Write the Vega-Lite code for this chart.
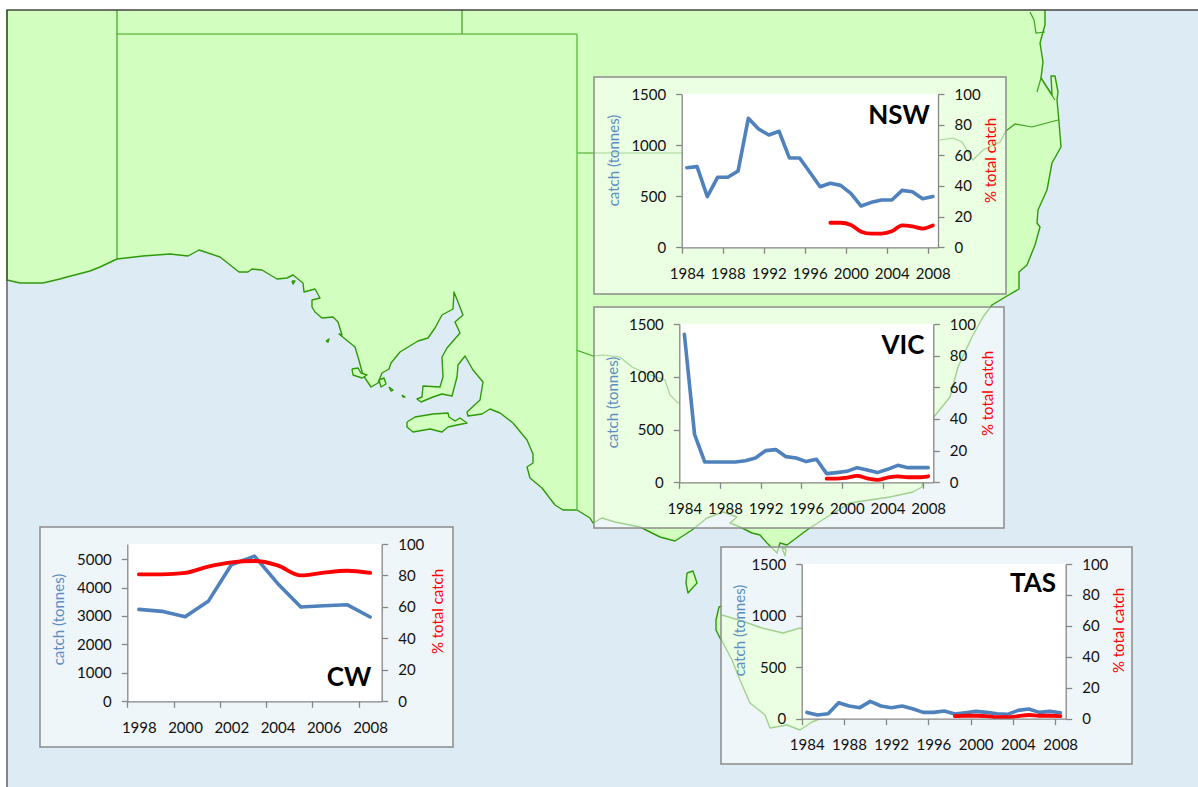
{
"$schema":"https://vega.github.io/schema/vega-lite/v6.json",
"width":1198,"height":787,"autosize":"none","padding":0,"background":"white",
"config":{"view":{"stroke":null},"axis":{"grid":false,"domainColor":"#868686","tickColor":"#868686","domainWidth":1.3,"tickWidth":1.3,"tickSize":6,"labelFont":"Lato","labelFontSize":15,"labelColor":"#111111","labelPadding":10,"labelOverlap":false,"labelFlush":false,"labelBound":false,"titleFont":"Lato","titleFontSize":15,"titleFontWeight":"normal","titleAlign":"center","titleBaseline":"middle"}},
"datasets":{
"catch":[
{"region":"NSW","year":1984,"catch":779},{"region":"NSW","year":1985,"catch":789},{"region":"NSW","year":1986,"catch":496},{"region":"NSW","year":1987,"catch":685},{"region":"NSW","year":1988,"catch":685},{"region":"NSW","year":1989,"catch":747},{"region":"NSW","year":1990,"catch":1262},{"region":"NSW","year":1991,"catch":1157},{"region":"NSW","year":1992,"catch":1099},{"region":"NSW","year":1993,"catch":1135},{"region":"NSW","year":1994,"catch":874},{"region":"NSW","year":1995,"catch":874},{"region":"NSW","year":1996,"catch":734},{"region":"NSW","year":1997,"catch":593},
{"region":"NSW","year":1998,"catch":626,"share":16},{"region":"NSW","year":1999,"catch":606,"share":16},{"region":"NSW","year":2000,"catch":528,"share":14.6},{"region":"NSW","year":2001,"catch":404,"share":10.2},{"region":"NSW","year":2002,"catch":440,"share":8.9},{"region":"NSW","year":2003,"catch":463,"share":8.9},{"region":"NSW","year":2004,"catch":463,"share":10.4},{"region":"NSW","year":2005,"catch":557,"share":14.3},{"region":"NSW","year":2006,"catch":544,"share":13.7},{"region":"NSW","year":2007,"catch":476,"share":12.2},{"region":"NSW","year":2008,"catch":496,"share":14.3},
{"region":"VIC","year":1984,"catch":1402},{"region":"VIC","year":1985,"catch":455},{"region":"VIC","year":1986,"catch":193},{"region":"VIC","year":1987,"catch":193},{"region":"VIC","year":1988,"catch":193},{"region":"VIC","year":1989,"catch":193},{"region":"VIC","year":1990,"catch":205},{"region":"VIC","year":1991,"catch":230},{"region":"VIC","year":1992,"catch":300},{"region":"VIC","year":1993,"catch":310},{"region":"VIC","year":1994,"catch":243},{"region":"VIC","year":1995,"catch":230},{"region":"VIC","year":1996,"catch":196},{"region":"VIC","year":1997,"catch":218},
{"region":"VIC","year":1998,"catch":82,"share":2.3},{"region":"VIC","year":1999,"catch":92,"share":2.3},{"region":"VIC","year":2000,"catch":104,"share":3},{"region":"VIC","year":2001,"catch":139,"share":4},{"region":"VIC","year":2002,"catch":117,"share":2.5},{"region":"VIC","year":2003,"catch":92,"share":1.5},{"region":"VIC","year":2004,"catch":123,"share":3},{"region":"VIC","year":2005,"catch":161,"share":3.8},{"region":"VIC","year":2006,"catch":139,"share":3.2},{"region":"VIC","year":2007,"catch":139,"share":3.2},{"region":"VIC","year":2008,"catch":139,"share":3.8},
{"region":"TAS","year":1984,"catch":61},{"region":"TAS","year":1985,"catch":36},{"region":"TAS","year":1986,"catch":48},{"region":"TAS","year":1987,"catch":155},{"region":"TAS","year":1988,"catch":123},{"region":"TAS","year":1989,"catch":107},{"region":"TAS","year":1990,"catch":168},{"region":"TAS","year":1991,"catch":123},{"region":"TAS","year":1992,"catch":107},{"region":"TAS","year":1993,"catch":123},{"region":"TAS","year":1994,"catch":97},{"region":"TAS","year":1995,"catch":61},{"region":"TAS","year":1996,"catch":61},{"region":"TAS","year":1997,"catch":74},
{"region":"TAS","year":1998,"catch":45,"share":1.7},{"region":"TAS","year":1999,"catch":58,"share":1.9},{"region":"TAS","year":2000,"catch":71,"share":1.9},{"region":"TAS","year":2001,"catch":61,"share":1.7},{"region":"TAS","year":2002,"catch":48,"share":1},{"region":"TAS","year":2003,"catch":42,"share":1},{"region":"TAS","year":2004,"catch":81,"share":1.7},{"region":"TAS","year":2005,"catch":94,"share":2.4},{"region":"TAS","year":2006,"catch":61,"share":1.9},{"region":"TAS","year":2007,"catch":71,"share":1.9},{"region":"TAS","year":2008,"catch":58,"share":1.7},
{"region":"CW","year":1998,"catch":3232,"share":80.7},{"region":"CW","year":1999,"catch":3162,"share":80.7},{"region":"CW","year":2000,"catch":2974,"share":81.6},{"region":"CW","year":2001,"catch":3513,"share":85.6},{"region":"CW","year":2002,"catch":4801,"share":88.3},{"region":"CW","year":2003,"catch":5105,"share":89.2},{"region":"CW","year":2004,"catch":4145,"share":86.4},{"region":"CW","year":2005,"catch":3314,"share":80},{"region":"CW","year":2006,"catch":3361,"share":81.8},{"region":"CW","year":2007,"catch":3396,"share":83},{"region":"CW","year":2008,"catch":2963,"share":81.6}
],
"land":[
{"p":"mainland","e":7,"s":10},{"p":"mainland","e":7,"s":280},{"p":"mainland","e":20,"s":283},{"p":"mainland","e":43,"s":283},{"p":"mainland","e":60,"s":279},{"p":"mainland","e":67,"s":277},{"p":"mainland","e":90,"s":271},{"p":"mainland","e":100,"s":267},{"p":"mainland","e":117,"s":259},{"p":"mainland","e":143,"s":256},{"p":"mainland","e":170,"s":254},{"p":"mainland","e":188,"s":256},{"p":"mainland","e":199,"s":250},{"p":"mainland","e":220,"s":257},{"p":"mainland","e":239,"s":272},{"p":"mainland","e":248,"s":272},{"p":"mainland","e":252,"s":269},{"p":"mainland","e":262,"s":270},{"p":"mainland","e":277,"s":279},{"p":"mainland","e":287,"s":278},{"p":"mainland","e":293,"s":275},{"p":"mainland","e":303,"s":283},{"p":"mainland","e":304,"s":292},{"p":"mainland","e":315,"s":289},{"p":"mainland","e":320,"s":298},{"p":"mainland","e":312,"s":300},{"p":"mainland","e":312,"s":307},{"p":"mainland","e":315,"s":312},{"p":"mainland","e":322,"s":318},{"p":"mainland","e":333,"s":317},{"p":"mainland","e":338,"s":322},{"p":"mainland","e":342,"s":335},{"p":"mainland","e":339,"s":334},{"p":"mainland","e":355,"s":347},{"p":"mainland","e":358,"s":357},{"p":"mainland","e":363,"s":375},{"p":"mainland","e":371,"s":387},{"p":"mainland","e":378,"s":383},{"p":"mainland","e":382,"s":373},{"p":"mainland","e":389,"s":369},{"p":"mainland","e":391,"s":363},{"p":"mainland","e":400,"s":352},{"p":"mainland","e":418,"s":341},{"p":"mainland","e":428,"s":338},{"p":"mainland","e":435,"s":328},{"p":"mainland","e":442,"s":315},{"p":"mainland","e":453,"s":309},{"p":"mainland","e":454,"s":292},{"p":"mainland","e":458,"s":302},{"p":"mainland","e":463,"s":315},{"p":"mainland","e":455,"s":322},{"p":"mainland","e":460,"s":333},{"p":"mainland","e":447,"s":348},{"p":"mainland","e":442,"s":357},{"p":"mainland","e":443,"s":377},{"p":"mainland","e":440,"s":387},{"p":"mainland","e":423,"s":386},{"p":"mainland","e":422,"s":397},{"p":"mainland","e":417,"s":399},{"p":"mainland","e":421,"s":402},{"p":"mainland","e":433,"s":397},{"p":"mainland","e":442,"s":394},{"p":"mainland","e":452,"s":396},{"p":"mainland","e":457,"s":377},{"p":"mainland","e":458,"s":365},{"p":"mainland","e":465,"s":356},{"p":"mainland","e":473,"s":370},{"p":"mainland","e":483,"s":382},{"p":"mainland","e":480,"s":400},{"p":"mainland","e":467,"s":412},{"p":"mainland","e":468,"s":416},{"p":"mainland","e":482,"s":414},{"p":"mainland","e":490,"s":409},{"p":"mainland","e":500,"s":413},{"p":"mainland","e":513,"s":423},{"p":"mainland","e":527,"s":440},{"p":"mainland","e":533,"s":454},{"p":"mainland","e":533,"s":463},{"p":"mainland","e":527,"s":467},{"p":"mainland","e":530,"s":478},{"p":"mainland","e":542,"s":488},{"p":"mainland","e":555,"s":505},{"p":"mainland","e":563,"s":510},{"p":"mainland","e":577,"s":510},{"p":"mainland","e":590,"s":518},{"p":"mainland","e":593,"s":523},{"p":"mainland","e":602,"s":518},{"p":"mainland","e":615,"s":522},{"p":"mainland","e":640,"s":527},{"p":"mainland","e":660,"s":537},{"p":"mainland","e":675,"s":541},{"p":"mainland","e":692,"s":530},{"p":"mainland","e":707,"s":518},{"p":"mainland","e":723,"s":512},{"p":"mainland","e":737,"s":517},{"p":"mainland","e":730,"s":523},{"p":"mainland","e":740,"s":527},{"p":"mainland","e":752,"s":533},{"p":"mainland","e":760,"s":535},{"p":"mainland","e":767,"s":543},{"p":"mainland","e":777,"s":553},{"p":"mainland","e":780,"s":543},{"p":"mainland","e":787,"s":545},{"p":"mainland","e":807,"s":530},{"p":"mainland","e":827,"s":517},{"p":"mainland","e":850,"s":503},{"p":"mainland","e":890,"s":497},{"p":"mainland","e":913,"s":492},{"p":"mainland","e":922,"s":487},{"p":"mainland","e":925,"s":470},{"p":"mainland","e":933,"s":418},{"p":"mainland","e":950,"s":397},{"p":"mainland","e":958,"s":367},{"p":"mainland","e":972,"s":337},{"p":"mainland","e":983,"s":317},{"p":"mainland","e":992,"s":305},{"p":"mainland","e":1007,"s":296},{"p":"mainland","e":1019,"s":289},{"p":"mainland","e":1019,"s":272},{"p":"mainland","e":1027,"s":265},{"p":"mainland","e":1035,"s":245},{"p":"mainland","e":1040,"s":227},{"p":"mainland","e":1037,"s":223},{"p":"mainland","e":1038,"s":210},{"p":"mainland","e":1047,"s":190},{"p":"mainland","e":1052,"s":163},{"p":"mainland","e":1061,"s":147},{"p":"mainland","e":1059,"s":122},{"p":"mainland","e":1057,"s":100},{"p":"mainland","e":1058,"s":92},{"p":"mainland","e":1055,"s":76},{"p":"mainland","e":1051,"s":76},{"p":"mainland","e":1052,"s":95},{"p":"mainland","e":1041,"s":78},{"p":"mainland","e":1043,"s":62},{"p":"mainland","e":1040,"s":43},{"p":"mainland","e":1045,"s":25},{"p":"mainland","e":1045,"s":10},
{"p":"kangaroo","e":407,"s":422},{"p":"kangaroo","e":415,"s":417},{"p":"kangaroo","e":433,"s":414},{"p":"kangaroo","e":448,"s":413},{"p":"kangaroo","e":449,"s":417},{"p":"kangaroo","e":455,"s":421},{"p":"kangaroo","e":460,"s":418},{"p":"kangaroo","e":467,"s":423},{"p":"kangaroo","e":457,"s":425},{"p":"kangaroo","e":448,"s":427},{"p":"kangaroo","e":442,"s":432},{"p":"kangaroo","e":430,"s":429},{"p":"kangaroo","e":413,"s":432},{"p":"kangaroo","e":407,"s":427},{"p":"kangaroo","e":407,"s":422},
{"p":"king","e":687,"s":573},{"p":"king","e":693,"s":571},{"p":"king","e":697,"s":583},{"p":"king","e":688,"s":593},{"p":"king","e":686,"s":583},{"p":"king","e":687,"s":573},
{"p":"tasmania","e":722,"s":606},{"p":"tasmania","e":719,"s":607},{"p":"tasmania","e":716,"s":620},{"p":"tasmania","e":716,"s":630},{"p":"tasmania","e":720,"s":638},{"p":"tasmania","e":722,"s":641},{"p":"tasmania","e":732,"s":660},{"p":"tasmania","e":740,"s":680},{"p":"tasmania","e":750,"s":703},{"p":"tasmania","e":765,"s":715},{"p":"tasmania","e":770,"s":728},{"p":"tasmania","e":787,"s":725},{"p":"tasmania","e":800,"s":730},{"p":"tasmania","e":812,"s":722},{"p":"tasmania","e":822,"s":718},{"p":"tasmania","e":830,"s":690},{"p":"tasmania","e":830,"s":640},{"p":"tasmania","e":800,"s":628},{"p":"tasmania","e":783,"s":633},{"p":"tasmania","e":762,"s":628},{"p":"tasmania","e":745,"s":622},{"p":"tasmania","e":722,"s":615},
{"p":"eyre","e":352,"s":369},{"p":"eyre","e":358,"s":368},{"p":"eyre","e":361,"s":373},{"p":"eyre","e":367,"s":375},{"p":"eyre","e":362,"s":378},{"p":"eyre","e":353,"s":375},{"p":"eyre","e":352,"s":369},
{"p":"yorke","e":379,"s":380},{"p":"yorke","e":384,"s":378},{"p":"yorke","e":386,"s":384},{"p":"yorke","e":381,"s":387},{"p":"yorke","e":379,"s":380},
{"p":"isle1","e":326,"s":341},{"p":"isle1","e":329,"s":339},{"p":"isle1","e":328,"s":342},{"p":"isle1","e":326,"s":341},
{"p":"isle2","e":389,"s":387},{"p":"isle2","e":393,"s":390},{"p":"isle2","e":391,"s":391},{"p":"isle2","e":389,"s":387},
{"p":"isle3","e":402,"s":395},{"p":"isle3","e":405,"s":397},{"p":"isle3","e":403,"s":397},{"p":"isle3","e":402,"s":395},
{"p":"isle4","e":292,"s":281},{"p":"isle4","e":295,"s":281},{"p":"isle4","e":293,"s":284},{"p":"isle4","e":292,"s":281},
{"p":"flinders","e":782,"s":548},{"p":"flinders","e":786,"s":549},{"p":"flinders","e":785,"s":556},{"p":"flinders","e":782,"s":548}
],
"borders":[
{"p":"b1","e":117,"s":10},{"p":"b1","e":117,"s":259},
{"p":"b2","e":117,"s":34},{"p":"b2","e":577,"s":34},
{"p":"b3","e":462,"s":10},{"p":"b3","e":462,"s":34},
{"p":"b4","e":577,"s":153},{"p":"b4","e":680,"s":153},{"p":"b4","e":940,"s":140},{"p":"b4","e":953,"s":138},{"p":"b4","e":962,"s":142},{"p":"b4","e":973,"s":160},{"p":"b4","e":983,"s":150},{"p":"b4","e":1000,"s":142},{"p":"b4","e":1006,"s":131},{"p":"b4","e":1015,"s":124},{"p":"b4","e":1032,"s":127},{"p":"b4","e":1043,"s":124},{"p":"b4","e":1058,"s":120},
{"p":"b5","e":576,"s":350},{"p":"b5","e":593,"s":356},{"p":"b5","e":603,"s":355},{"p":"b5","e":620,"s":357},{"p":"b5","e":632,"s":367},{"p":"b5","e":645,"s":373},{"p":"b5","e":665,"s":380},{"p":"b5","e":670,"s":395},{"p":"b5","e":678,"s":403},{"p":"b5","e":800,"s":440},
{"p":"b6","e":1030,"s":12},{"p":"b6","e":1034,"s":20},{"p":"b6","e":1036,"s":33},{"p":"b6","e":1045,"s":32},
{"p":"b7","e":1055,"s":100},{"p":"b7","e":1041,"s":78},{"p":"b7","e":1037,"s":92}
],
"stateline":[{"e":577,"s":34},{"e":577,"s":510}],
"frame":[{"e":7,"s":787},{"e":7,"s":10},{"e":1198,"s":10}],
"sea":[{"e":8,"e2":1198,"s":10,"s2":787}],
"panels":[{"region":"NSW","e":594,"e2":1006,"s":77,"s2":294},{"region":"VIC","e":594,"e2":1004,"s":307,"s2":528},{"region":"TAS","e":721,"e2":1132,"s":547,"s2":764},{"region":"CW","e":40,"e2":453,"s":527,"s2":747}],
"plots":[{"region":"NSW","e":682,"e2":938,"s":94,"s2":247},{"region":"VIC","e":679,"e2":933,"s":324,"s2":482},{"region":"TAS","e":802,"e2":1066,"s":564,"s2":719},{"region":"CW","e":127,"e2":382,"s":544,"s2":701}],
"labels":[{"label":"NSW","e":899,"s":116},{"label":"VIC","e":903,"s":346},{"label":"TAS","e":1033,"s":584},{"label":"CW","e":349,"s":678}]
},
"resolve":{"scale":{"x":"independent","y":"independent"},"axis":{"x":"independent","y":"independent"}},
"layer":[
{"encoding":{"x":{"field":"e","type":"quantitative","scale":{"domain":[0,1198],"range":[0,1198],"nice":false,"zero":false},"axis":null},"y":{"field":"s","type":"quantitative","scale":{"domain":[0,787],"range":[0,787],"nice":false,"zero":false},"axis":null}},
"layer":[
{"data":{"name":"sea"},"mark":{"type":"rect","fill":"#dcebf4"},"encoding":{"x2":{"field":"e2"},"y2":{"field":"s2"}}},
{"data":{"name":"land"},"mark":{"type":"line","fill":"#d2ffbf","stroke":"#2f9a08","strokeWidth":1.4,"strokeJoin":"round"},"encoding":{"detail":{"field":"p"},"order":{"value":null}}},
{"data":{"name":"borders"},"mark":{"type":"line","stroke":"#3f9f1f","strokeWidth":1.2},"encoding":{"detail":{"field":"p"},"order":{"value":null}}},
{"data":{"name":"stateline"},"mark":{"type":"line","stroke":"#6cc84f","strokeWidth":1.6},"encoding":{"order":{"value":null}}},
{"data":{"name":"frame"},"mark":{"type":"line","stroke":"#444444","strokeWidth":1.3},"encoding":{"order":{"value":null}}},
{"data":{"name":"panels"},"mark":{"type":"rect","fill":"white","fillOpacity":0.55,"stroke":"#8c8c8c","strokeWidth":1.5},"encoding":{"x2":{"field":"e2"},"y2":{"field":"s2"}}},
{"data":{"name":"plots"},"mark":{"type":"rect","fill":"white"},"encoding":{"x2":{"field":"e2"},"y2":{"field":"s2"}}},
{"data":{"name":"labels"},"mark":{"type":"text","font":"Lato","fontWeight":"bold","fontSize":26,"color":"#000000","align":"center","baseline":"middle"},"encoding":{"text":{"field":"label"}}}
]},
{"data":{"name":"catch"},"transform":[{"filter":"datum.region==='NSW'"}],"mark":{"type":"line","color":"#4f81bd","strokeWidth":3.6,"strokeCap":"round","strokeJoin":"round"},
"encoding":{"x":{"field":"year","type":"quantitative","scale":{"domain":[1983.5,2008.5],"range":[681.7,938],"nice":false,"zero":false},"axis":{"orient":"bottom","zindex":1,"offset":-539.7,"title":null,"values":[1983.5,1987.5,1991.5,1995.5,1999.5,2003.5,2007.5],"labelExpr":"format(datum.value+0.5,'d')","labelOffset":5,"labelPadding":13}},
"y":{"field":"catch","type":"quantitative","scale":{"domain":[0,1500],"range":[247.3,94],"nice":false,"zero":false},"axis":{"orient":"left","zindex":1,"offset":-681.7,"format":"d","values":[0,500,1000,1500],"title":"catch (tonnes)","titleColor":"#5b8dc4","titleX":-68,"titleY":160}}}},
{"data":{"name":"catch"},"transform":[{"filter":"datum.region==='NSW'"}],"mark":{"type":"line","color":"#ff0000","strokeWidth":3.8,"strokeCap":"round","interpolate":"monotone"},
"encoding":{"x":{"field":"year","type":"quantitative","scale":{"domain":[1983.5,2008.5],"range":[681.7,938],"nice":false,"zero":false},"axis":null},
"y":{"field":"share","type":"quantitative","scale":{"domain":[0,100],"range":[247.3,94],"nice":false,"zero":false},"axis":{"orient":"right","zindex":1,"offset":-260,"format":"d","values":[0,20,40,60,80,100],"title":"% total catch","titleColor":"#ff0000","titleAngle":270,"titleX":52,"titleY":160}}}},
{"data":{"name":"catch"},"transform":[{"filter":"datum.region==='VIC'"}],"mark":{"type":"line","color":"#4f81bd","strokeWidth":3.6,"strokeCap":"round","strokeJoin":"round"},
"encoding":{"x":{"field":"year","type":"quantitative","scale":{"domain":[1983.5,2008.5],"range":[679.3,933.3],"nice":false,"zero":false},"axis":{"orient":"bottom","zindex":1,"offset":-304.7,"title":null,"values":[1983.5,1987.5,1991.5,1995.5,1999.5,2003.5,2007.5],"labelExpr":"format(datum.value+0.5,'d')","labelOffset":5,"labelPadding":13}},
"y":{"field":"catch","type":"quantitative","scale":{"domain":[0,1500],"range":[482.3,324],"nice":false,"zero":false},"axis":{"orient":"left","zindex":1,"offset":-679.3,"format":"d","values":[0,500,1000,1500],"title":"catch (tonnes)","titleColor":"#5b8dc4","titleX":-67,"titleY":402}}}},
{"data":{"name":"catch"},"transform":[{"filter":"datum.region==='VIC'"}],"mark":{"type":"line","color":"#ff0000","strokeWidth":3.8,"strokeCap":"round","interpolate":"monotone"},
"encoding":{"x":{"field":"year","type":"quantitative","scale":{"domain":[1983.5,2008.5],"range":[679.3,933.3],"nice":false,"zero":false},"axis":null},
"y":{"field":"share","type":"quantitative","scale":{"domain":[0,100],"range":[482.3,324],"nice":false,"zero":false},"axis":{"orient":"right","zindex":1,"offset":-264.7,"format":"d","values":[0,20,40,60,80,100],"title":"% total catch","titleColor":"#ff0000","titleAngle":270,"titleX":54,"titleY":393}}}},
{"data":{"name":"catch"},"transform":[{"filter":"datum.region==='TAS'"}],"mark":{"type":"line","color":"#4f81bd","strokeWidth":3.6,"strokeCap":"round","strokeJoin":"round"},
"encoding":{"x":{"field":"year","type":"quantitative","scale":{"domain":[1983.5,2008.5],"range":[801.7,1065.7],"nice":false,"zero":false},"axis":{"orient":"bottom","zindex":1,"offset":-68.3,"title":null,"values":[1983.5,1987.5,1991.5,1995.5,1999.5,2003.5,2007.5],"labelExpr":"format(datum.value+0.5,'d')","labelOffset":5,"labelPadding":13}},
"y":{"field":"catch","type":"quantitative","scale":{"domain":[0,1500],"range":[718.7,564],"nice":false,"zero":false},"axis":{"orient":"left","zindex":1,"offset":-801.7,"format":"d","values":[0,500,1000,1500],"title":"catch (tonnes)","titleColor":"#5b8dc4","titleX":-62.4,"titleY":630}}}},
{"data":{"name":"catch"},"transform":[{"filter":"datum.region==='TAS'"}],"mark":{"type":"line","color":"#ff0000","strokeWidth":3.8,"strokeCap":"round","interpolate":"monotone"},
"encoding":{"x":{"field":"year","type":"quantitative","scale":{"domain":[1983.5,2008.5],"range":[801.7,1065.7],"nice":false,"zero":false},"axis":null},
"y":{"field":"share","type":"quantitative","scale":{"domain":[0,100],"range":[718.7,564],"nice":false,"zero":false},"axis":{"orient":"right","zindex":1,"offset":-132.3,"format":"d","values":[0,20,40,60,80,100],"title":"% total catch","titleColor":"#ff0000","titleAngle":270,"titleX":52.6,"titleY":630}}}},
{"data":{"name":"catch"},"transform":[{"filter":"datum.region==='CW'"}],"mark":{"type":"line","color":"#4f81bd","strokeWidth":3.6,"strokeCap":"round","strokeJoin":"round"},
"encoding":{"x":{"field":"year","type":"quantitative","scale":{"domain":[1997.5,2008.5],"range":[127.3,381.7],"nice":false,"zero":false},"axis":{"orient":"bottom","zindex":1,"offset":-85.7,"title":null,"values":[1997.5,1999.5,2001.5,2003.5,2005.5,2007.5],"labelExpr":"format(datum.value+0.5,'d')","labelOffset":11.5,"labelPadding":13}},
"y":{"field":"catch","type":"quantitative","scale":{"domain":[0,5530],"range":[701.3,544],"nice":false,"zero":false},"axis":{"orient":"left","zindex":1,"offset":-127.3,"format":"d","values":[0,1000,2000,3000,4000,5000],"title":"catch (tonnes)","titleColor":"#5b8dc4","titleX":-69,"titleY":619}}}},
{"data":{"name":"catch"},"transform":[{"filter":"datum.region==='CW'"}],"mark":{"type":"line","color":"#ff0000","strokeWidth":3.8,"strokeCap":"round","interpolate":"monotone"},
"encoding":{"x":{"field":"year","type":"quantitative","scale":{"domain":[1997.5,2008.5],"range":[127.3,381.7],"nice":false,"zero":false},"axis":null},
"y":{"field":"share","type":"quantitative","scale":{"domain":[0,100],"range":[701.3,544],"nice":false,"zero":false},"axis":{"orient":"right","zindex":1,"offset":-816.3,"format":"d","values":[0,20,40,60,80,100],"title":"% total catch","titleColor":"#ff0000","titleAngle":270,"titleX":55.6,"titleY":611}}}}
]
}
